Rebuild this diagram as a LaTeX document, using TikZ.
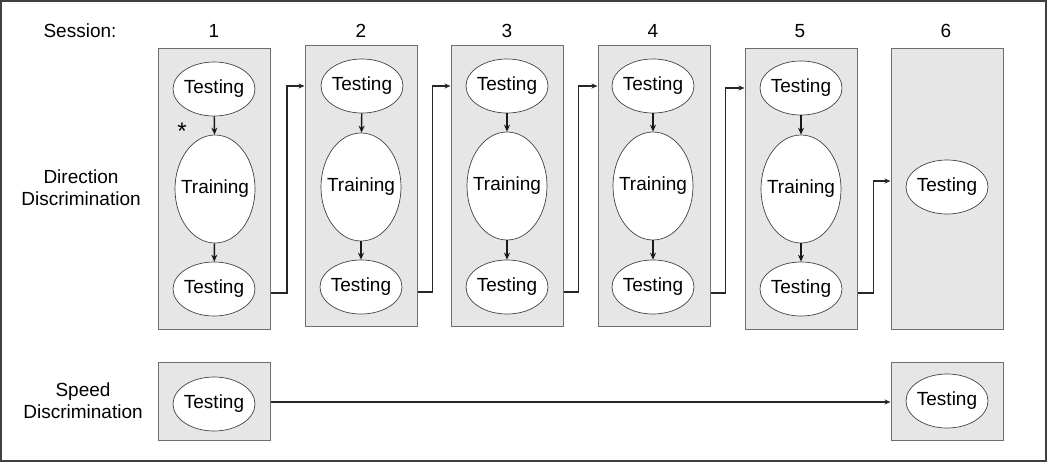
\documentclass[tikz,border=0pt]{standalone}
\usepackage{fontspec}
\setmainfont{Liberation Sans}
\usetikzlibrary{shapes.geometric,arrows.meta}
\definecolor{panelfill}{HTML}{E6E6E6}
\definecolor{panelline}{HTML}{6E6E6E}
\definecolor{ellline}{HTML}{444444}
\definecolor{frameline}{HTML}{404040}
\newcommand{\zw}[1]{\makebox[0pt][c]{#1}}
\begin{document}
\begin{tikzpicture}[x=1pt,y=-1pt,
  every node/.style={font=\fontsize{19}{22}\selectfont},
  panel/.style={draw=panelline,line width=1pt,fill=panelfill,minimum width=112pt,inner sep=0pt},
  tall/.style={panel,minimum height=281pt},
  short/.style={panel,minimum height=78pt},
  test/.style={ellipse,draw=ellline,line width=0.7pt,fill=white,minimum width=82pt,minimum height=54pt,inner sep=0pt},
  train/.style={ellipse,draw=ellline,line width=0.7pt,fill=white,minimum width=80pt,minimum height=108pt,inner sep=0pt},
  lbl/.style={align=center,inner sep=0pt},
  conn/.style={draw=black!90,line width=1.4pt,-{Stealth[length=7pt,width=6pt]}},
  flow/.style={draw=black!85,line width=1.4pt,-{Stealth[length=6pt,width=5pt]}}
]
\useasboundingbox (0,0) rectangle (1050,463);
\draw[frameline,line width=2pt] (1,1) rectangle (1046,461);

% labels
\node[lbl] (sess) at (80,31) {Session:};
\node[lbl] (n1) at (214,31) {1};
\node[lbl] (n2) at (361,31) {2};
\node[lbl] (n3) at (507,31) {3};
\node[lbl] (n4) at (653,31) {4};
\node[lbl] (n5) at (800,31) {5};
\node[lbl] (n6) at (946,31) {6};
\node[lbl] (dir) at (81,188) {Direction\\Discrimination};
\node[lbl] (spd) at (83,401) {Speed\\Discrimination};

% direction panels
\node[tall] (p1) at (214.5,188.5) {};
\node[tall] (p2) at (361,185.5) {};
\node[tall] (p3) at (507,185.5) {};
\node[tall] (p4) at (654,185.5) {};
\node[tall] (p5) at (801,188.5) {};
\node[tall] (p6) at (947,188.5) {};

% speed panels
\node[short] (s1) at (214.5,401) {};
\node[short] (s6) at (947,401) {};

% ellipses
\node[test] (a1) at (214,89) {\zw{Testing}};
\node[train] (r1) at (215,189) {\zw{Training}};
\node[test] (b1) at (214,289) {\zw{Testing}};
\node[test] (a2) at (362,86) {\zw{Testing}};
\node[train] (r2) at (361,187) {\zw{Training}};
\node[test] (b2) at (361,287) {\zw{Testing}};
\node[test] (a3) at (507,86) {\zw{Testing}};
\node[train] (r3) at (507,186) {\zw{Training}};
\node[test] (b3) at (507,287) {\zw{Testing}};
\node[test] (a4) at (653,86) {\zw{Testing}};
\node[train] (r4) at (653,186) {\zw{Training}};
\node[test] (b4) at (653,287) {\zw{Testing}};
\node[test] (a5) at (801,88) {\zw{Testing}};
\node[train] (r5) at (801,189) {\zw{Training}};
\node[test] (b5) at (801,289) {\zw{Testing}};
\node[test] (c6) at (947,187) {\zw{Testing}};
\node[test] (sa) at (214,404) {\zw{Testing}};
\node[test] (sb) at (947,401) {\zw{Testing}};

\node[lbl,font=\fontsize{24}{24}\selectfont] (ast) at (182,131) {*};

% inner arrows
\foreach \i in {1,...,5}{
  \draw[conn] (a\i) -- (r\i);
  \draw[conn] (r\i) -- (b\i);
}

% session-to-session connectors
\draw[flow] (p1.east |- 0,293) -- ++(16,0) |- (p2.west |- a2);
\draw[flow] (p2.east |- 0,292) -- ++(15,0) |- (p3.west |- a3);
\draw[flow] (p3.east |- 0,292) -- ++(15,0) |- (p4.west |- a4);
\draw[flow] (p4.east |- 0,293) -- ++(15,0) |- (p5.west |- a5);
\draw[flow] (p5.east |- 0,293) -- ++(16,0) |- (p6.west |- 0,181);

% speed connector
\draw[flow] (s1.east |- 0,402) -- (s6.west |- 0,402);
\end{tikzpicture}
\end{document}
